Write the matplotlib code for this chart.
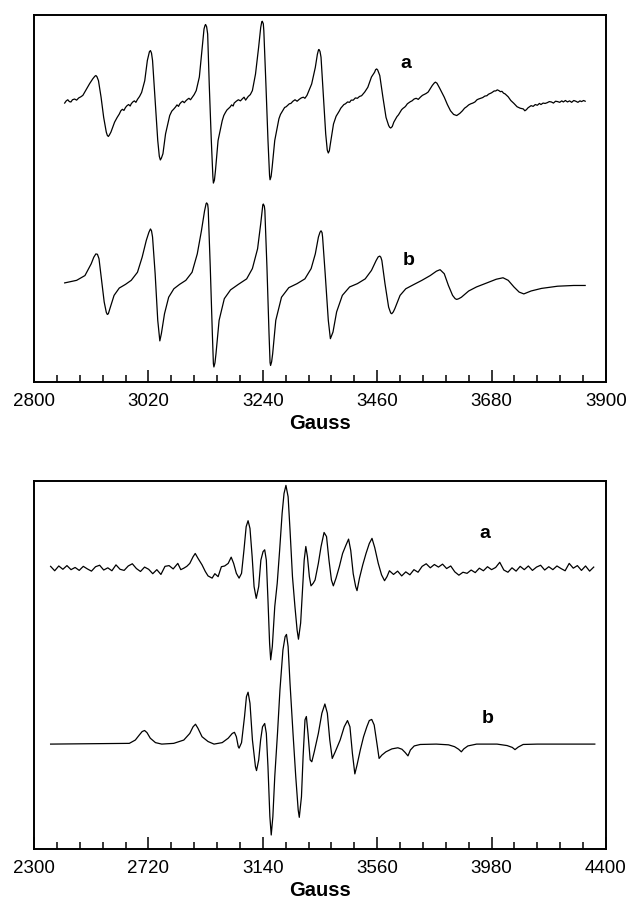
import matplotlib
matplotlib.use("Agg")
import matplotlib.pyplot as plt
import numpy as np

plt.rcParams['font.family'] = ['Liberation Sans', 'DejaVu Sans']

# ---------------- Top panel data (field in Gauss, intensity in arbitrary units) ----------------
top_a_field = [2859, 2862, 2865, 2868, 2871, 2874, 2878, 2882, 2886, 2890, 2894, 2900, 2907, 2913, 2917, 2919, 2921, 2924, 2929, 2934, 2939, 2941, 2943,
               2945, 2948, 2955, 2960, 2964, 2967, 2970, 2973, 2976, 2979, 2982, 2985, 2987, 2990, 2993, 2996, 2999, 3003, 3007, 3013, 3018, 3022, 3024, 3026, 3028, 3033,
               3038, 3041, 3043, 3045, 3048, 3053, 3061, 3065, 3069, 3072, 3075, 3078, 3080, 3083, 3086, 3089, 3092, 3095, 3098, 3101, 3104, 3108, 3112, 3118, 3123,
               3127, 3129, 3130, 3132, 3134, 3137, 3141, 3144, 3145, 3147, 3149, 3154, 3162, 3165, 3168, 3171, 3174, 3177, 3180, 3183, 3185, 3189, 3193, 3197, 3201,
               3204, 3207, 3210, 3212, 3216, 3220, 3226, 3232, 3236, 3238, 3239, 3241, 3242, 3246, 3250, 3253, 3254, 3256, 3258, 3263, 3271, 3274, 3277,
               3280, 3282, 3285, 3288, 3291, 3294, 3298, 3302, 3306, 3310, 3314, 3318, 3321, 3325, 3334, 3341, 3345, 3347, 3348, 3350, 3352, 3356, 3361, 3364, 3366,
               3368, 3370, 3376, 3381, 3384, 3387, 3390, 3393, 3396, 3399, 3403, 3407, 3410, 3414, 3418, 3422, 3426, 3430, 3436, 3442, 3449, 3455, 3457, 3459,
               3461, 3465, 3471, 3477, 3482, 3484, 3486, 3489, 3492, 3498, 3501, 3504, 3507, 3510, 3513, 3515, 3518, 3521, 3524, 3527, 3531, 3535, 3539, 3543, 3547, 3550,
               3554, 3558, 3566, 3570, 3572, 3575, 3580, 3589, 3595, 3601, 3607, 3613, 3619, 3624, 3628, 3632, 3636, 3640, 3644, 3648, 3652, 3655,
               3659, 3663, 3667, 3671, 3674, 3677, 3680, 3682, 3685, 3688, 3691, 3694, 3697, 3700, 3703, 3706, 3709, 3712, 3717, 3723, 3729, 3735, 3741, 3744, 3747,
               3750, 3752, 3756, 3760, 3764, 3768, 3772, 3775, 3779, 3783, 3787, 3791, 3795, 3799, 3803, 3807, 3811, 3815, 3818, 3822, 3826, 3830, 3834, 3838, 3842, 3846, 3850, 3853, 3857, 3860]
top_a_value = [76.0, 76.6, 76.9, 76.4, 76.3, 76.9, 77.1, 76.8, 77.4, 77.7, 78.1, 79.6, 81.3, 82.6, 83.3, 83.5, 83.2, 82.1, 77.6, 72.1, 68.1, 67.2, 66.9,
               67.3, 68.1, 70.8, 72.1, 73.0, 73.9, 74.3, 74.0, 74.8, 75.3, 75.6, 75.2, 75.8, 76.3, 76.6, 76.2, 77.0, 77.8, 78.9, 82.1, 87.6, 90.0, 90.3, 89.6, 87.6, 76.7,
               65.8, 61.5, 60.5, 61.0, 62.2, 67.6, 72.6, 73.8, 74.4, 74.9, 75.5, 75.1, 75.7, 76.2, 76.5, 76.1, 76.6, 77.0, 77.3, 76.9, 77.5, 78.3, 79.4, 83.1, 90.3,
               96.2, 97.2, 97.4, 96.8, 94.8, 81.2, 65.8, 56.0, 54.2, 55.0, 57.6, 65.8, 71.2, 72.6, 73.4, 74.1, 74.5, 74.9, 75.5, 75.2, 76.0, 76.5, 76.9, 76.6, 77.2,
               77.6, 76.8, 77.4, 77.8, 78.3, 79.4, 83.9, 91.2, 96.6, 98.1, 98.3, 97.6, 95.7, 81.2, 65.8, 56.3, 55.1, 56.0, 58.5, 65.8, 71.7, 72.9, 73.6,
               74.3, 74.8, 75.0, 75.4, 75.8, 75.9, 76.5, 76.9, 76.5, 77.0, 77.4, 77.6, 77.3, 78.1, 81.2, 85.7, 89.3, 90.4, 90.6, 90.1, 88.5, 79.4, 67.6, 63.2, 62.4,
               63.0, 64.9, 70.3, 72.4, 73.1, 73.8, 74.6, 75.1, 75.6, 75.8, 76.3, 76.2, 76.8, 76.8, 77.4, 77.3, 77.8, 78.0, 79.0, 80.3, 83.1, 84.4, 85.1, 85.3,
               85.0, 83.5, 77.6, 72.1, 69.9, 69.4, 69.2, 69.6, 70.8, 72.3, 72.8, 73.5, 74.2, 74.6, 74.9, 75.2, 75.8, 76.1, 76.4, 76.6, 77.1, 77.3, 77.0, 77.6, 78.1, 78.3,
               78.6, 79.0, 80.8, 81.5, 81.7, 81.4, 80.1, 77.6, 75.6, 73.9, 72.9, 72.6, 73.2, 73.9, 74.6, 75.0, 75.5, 75.8, 76.0, 76.3, 76.9, 77.1,
               77.3, 77.5, 77.9, 78.0, 78.4, 78.6, 78.8, 79.0, 79.3, 79.3, 79.6, 79.4, 79.1, 79.2, 78.7, 78.5, 78.1, 77.7, 76.7, 75.9, 75.0, 74.6, 74.4, 73.9, 74.2,
               74.7, 74.9, 75.3, 75.1, 75.6, 75.4, 75.9, 75.6, 76.0, 75.9, 76.1, 76.4, 76.3, 76.0, 76.5, 76.4, 76.2, 76.6, 76.3, 76.7, 76.3, 76.6, 76.2, 76.7, 76.5, 76.2, 76.6, 76.4, 76.7, 76.5]

top_b_field = [2859, 2882, 2898, 2910, 2915, 2919, 2922, 2925, 2930, 2935, 2939, 2941, 2943, 2946, 2954, 2964, 2976, 2987, 2999,
               3008, 3016, 3021, 3024, 3026, 3028, 3033, 3038, 3042, 3045, 3051, 3059, 3069, 3080, 3092, 3104,
               3114, 3122, 3128, 3131, 3132, 3134, 3135, 3139, 3143, 3145, 3146, 3148, 3150, 3156, 3166, 3178, 3193, 3209, 3220,
               3230, 3236, 3240, 3241, 3243, 3244, 3248, 3252, 3254, 3255, 3257, 3259, 3265, 3276, 3290, 3306, 3321, 3333, 3341,
               3347, 3350, 3352, 3354, 3355, 3360, 3366, 3370, 3375, 3382, 3393, 3407, 3422, 3437, 3449, 3458, 3462, 3465,
               3467, 3469, 3475, 3482, 3486, 3488, 3491, 3494, 3504, 3515, 3531, 3546, 3562, 3574, 3581, 3589, 3597, 3605,
               3610, 3613, 3617, 3622, 3636, 3651, 3671, 3689, 3702, 3712, 3723, 3733, 3742, 3756, 3776, 3807, 3838,
               3860]
top_b_value = [27.0, 27.7, 29.0, 32.2, 34.0, 34.9, 34.8, 33.6, 27.7, 21.8, 19.0, 18.4, 18.6, 20.0, 23.6, 25.6, 26.6, 27.7, 29.9,
               34.0, 38.6, 40.8, 41.7, 41.2, 39.5, 29.5, 16.8, 11.2, 13.2, 18.6, 23.1, 25.4, 26.6, 27.7, 29.9,
               34.9, 41.2, 46.6, 48.6, 48.8, 48.4, 47.2, 31.3, 13.2, 5.0, 4.1, 5.2, 7.7, 16.8, 22.7, 25.1, 26.6, 28.1, 30.9,
               36.3, 43.1, 48.2, 48.5, 47.9, 46.7, 31.3, 13.2, 5.3, 4.5, 5.5, 7.7, 16.8, 23.1, 25.7, 26.8, 28.1, 30.9, 34.9,
               39.5, 40.8, 41.2, 40.7, 39.5, 29.5, 16.8, 11.8, 13.6, 19.1, 23.6, 25.9, 26.8, 28.1, 30.4, 33.1, 34.1, 34.3,
               34.0, 33.1, 26.8, 20.4, 18.8, 18.6, 19.1, 20.0, 23.6, 25.4, 26.6, 27.7, 29.0, 30.2, 30.6, 29.5, 26.3, 23.6,
               22.7, 22.5, 22.7, 23.1, 24.8, 25.9, 27.0, 28.0, 28.4, 27.7, 25.9, 24.5, 24.0, 24.8, 25.5, 26.1, 26.3,
               26.3]

# ---------------- Bottom panel data ----------------
bot_a_field = [2361, 2376, 2391, 2406, 2421, 2436, 2451, 2466, 2481, 2496, 2511, 2526, 2541, 2556, 2571,
               2586, 2601, 2616, 2631, 2646, 2661, 2676, 2691, 2706, 2721, 2736, 2751, 2766, 2781, 2796,
               2811, 2828, 2839, 2850, 2861, 2872, 2884, 2892, 2902, 2917, 2929, 2939, 2954, 2964, 2976,
               2988, 3000, 3013, 3024, 3033, 3043, 3053, 3062, 3071, 3079, 3086, 3093, 3101, 3108, 3116,
               3125, 3133, 3141, 3147, 3153, 3159, 3165, 3169, 3175, 3184, 3193, 3202, 3211, 3218, 3225,
               3233, 3240, 3249, 3258, 3266, 3271, 3279, 3286, 3292, 3298, 3304, 3311, 3317, 3325, 3332,
               3344, 3354, 3365, 3374, 3383, 3392, 3399, 3409, 3421, 3433, 3445, 3455, 3463, 3472, 3481,
               3486, 3495, 3507, 3519, 3531, 3541, 3551, 3564, 3576, 3587, 3596, 3605, 3620, 3635, 3650,
               3665, 3680, 3695, 3710, 3725, 3740, 3755, 3770, 3785, 3800, 3815, 3830, 3845, 3860, 3875,
               3890, 3905, 3920, 3935, 3950, 3965, 3980, 3995, 4010, 4025, 4040, 4055, 4070, 4085, 4100,
               4115, 4130, 4145, 4160, 4175, 4190, 4205, 4220, 4235, 4250, 4265, 4280, 4295, 4310, 4325,
               4340, 4355]
bot_a_value = [76.8, 75.6, 76.9, 76.0, 77.0, 75.9, 76.5, 75.7, 76.8, 76.1, 75.5, 76.7, 77.1, 75.8, 76.4,
               75.6, 77.2, 76.0, 75.7, 76.9, 77.5, 76.2, 75.4, 76.6, 76.0, 74.8, 75.9, 74.6, 76.8, 77.0,
               76.1, 77.6, 75.9, 76.3, 76.8, 77.6, 79.4, 80.3, 79.0, 77.2, 75.4, 74.2, 73.6, 74.8, 74.0,
               76.7, 76.9, 77.6, 79.3, 77.6, 74.9, 73.6, 74.9, 81.3, 87.6, 89.2, 87.1, 79.4, 71.3, 68.1,
               71.3, 78.5, 80.8, 81.3, 78.5, 67.7, 55.9, 51.4, 55.0, 65.9, 72.2, 81.3, 91.2, 96.6, 98.8,
               95.7, 86.7, 74.0, 65.9, 59.5, 57.0, 61.4, 70.4, 78.5, 82.2, 79.4, 74.0, 71.5, 72.2, 73.1,
               77.6, 82.2, 86.0, 84.9, 78.5, 73.1, 71.5, 73.6, 76.7, 80.3, 82.5, 84.2, 81.1, 74.8, 71.3,
               70.2, 73.6, 77.2, 80.3, 83.0, 84.4, 81.9, 77.6, 74.5, 72.9, 74.0, 75.6, 74.6, 75.5, 74.2,
               75.3, 74.5, 75.9, 75.2, 76.8, 77.5, 76.4, 77.3, 76.6, 77.4, 76.2, 76.9, 75.3, 74.4, 75.2,
               74.9, 75.8, 75.1, 76.3, 75.6, 76.7, 75.9, 76.5, 77.9, 75.8, 75.2, 76.4, 75.5, 76.8, 75.9,
               76.9, 75.7, 76.6, 77.1, 75.8, 76.7, 75.9, 76.9, 76.2, 75.6, 77.6, 76.3, 77.0, 75.7, 76.9,
               75.5, 76.6]

bot_b_field = [2361, 2650, 2672, 2687, 2697, 2706, 2715, 2727, 2746, 2769, 2813, 2850, 2872, 2884, 2893,
               2902, 2917, 2939, 2961, 2991, 3013, 3028, 3036, 3043, 3050, 3053, 3062, 3073, 3080, 3086,
               3093, 3102, 3113, 3117, 3125, 3132, 3139, 3147, 3153, 3159, 3166, 3171, 3177, 3184, 3194,
               3203, 3214, 3222, 3227, 3233, 3240, 3251, 3261, 3270, 3274, 3282, 3288, 3295, 3300, 3306,
               3314, 3320, 3329, 3344, 3357, 3368, 3377, 3386, 3395, 3406, 3424, 3439, 3451, 3460, 3469,
               3478, 3486, 3498, 3510, 3522, 3531, 3540, 3549, 3559, 3567, 3577, 3592, 3614, 3636, 3651,
               3663, 3673, 3682, 3696, 3718, 3777, 3822, 3844, 3859, 3869, 3878, 3893, 3925, 4000, 4037,
               4056, 4066, 4078, 4096, 4148, 4359]
bot_b_value = [28.5, 28.7, 29.6, 31.0, 31.9, 32.2, 31.6, 30.1, 28.9, 28.5, 28.7, 29.6, 31.4, 33.2, 33.9,
               32.8, 30.5, 29.2, 28.5, 28.9, 30.1, 31.4, 31.7, 30.5, 27.8, 27.4, 28.9, 36.0, 41.4, 42.6,
               39.6, 29.6, 22.4, 21.3, 24.2, 29.6, 33.2, 34.1, 31.4, 22.4, 8.8, 3.8, 8.8, 19.7, 31.4,
               43.2, 54.1, 57.7, 58.3, 55.0, 45.0, 31.4, 19.7, 10.6, 8.6, 14.2, 25.1, 35.1, 36.0, 31.4,
               24.2, 23.7, 26.4, 31.4, 36.9, 39.4, 36.9, 29.6, 24.6, 26.4, 29.6, 33.2, 34.9, 33.2, 26.0,
               20.4, 22.8, 26.9, 30.5, 33.2, 34.9, 35.2, 33.7, 28.7, 24.6, 25.5, 26.4, 27.2, 27.5, 27.1,
               26.2, 25.3, 26.9, 28.0, 28.4, 28.5, 28.3, 27.8, 27.1, 26.4, 27.2, 28.0, 28.5, 28.5, 28.1,
               27.6, 27.0, 27.7, 28.4, 28.5, 28.5]

# ---------------- Axis settings ----------------
top_xlim = (2800, 3900)
top_ticks = [2800, 3020, 3240, 3460, 3680, 3900]
top_minor = 44
bot_xlim = (2300, 4400)
bot_ticks = [2300, 2720, 3140, 3560, 3980, 4400]
bot_minor = 84

fig = plt.figure(figsize=(6.33, 9.08), dpi=100)
ax1 = fig.add_axes([0.0537, 0.5793, 0.9036, 0.4042])
ax2 = fig.add_axes([0.0537, 0.0650, 0.9036, 0.4053])

lw = 0.9
kw = dict(color='black', lw=lw, solid_joinstyle='round')
ax1.plot(top_a_field, top_a_value, **kw)
ax1.plot(top_b_field, top_b_value, **kw)
ax2.plot(bot_a_field, bot_a_value, **kw)
ax2.plot(bot_b_field, bot_b_value, **kw)

ax1.text(3515, 86.7, 'a', fontsize=14, fontweight='bold', ha='center', va='center')
ax1.text(3521, 33.1, 'b', fontsize=14, fontweight='bold', ha='center', va='center')
ax2.text(3955, 85.8, 'a', fontsize=14, fontweight='bold', ha='center', va='center')
ax2.text(3967, 35.5, 'b', fontsize=14, fontweight='bold', ha='center', va='center')

for ax, xl, ticks, mnr in [(ax1, top_xlim, top_ticks, top_minor), (ax2, bot_xlim, bot_ticks, bot_minor)]:
    ax.set_xlim(*xl)
    ax.set_ylim(0, 100)
    ax.set_xticks(ticks)
    ax.set_xticks(np.arange(xl[0], xl[1] + 1, mnr), minor=True)
    ax.set_yticks([])
    ax.tick_params(axis='x', which='major', direction='in', length=9, width=1.1,
                   labelsize=13.5, pad=8)
    ax.tick_params(axis='x', which='minor', direction='in', length=5, width=1.1)
    for s in ax.spines.values():
        s.set_linewidth(1.4)
        s.set_color('black')
    ax.set_xlabel('Gauss', fontsize=14.5, fontweight='bold', labelpad=3)

fig.savefig('out.png', dpi=100)
